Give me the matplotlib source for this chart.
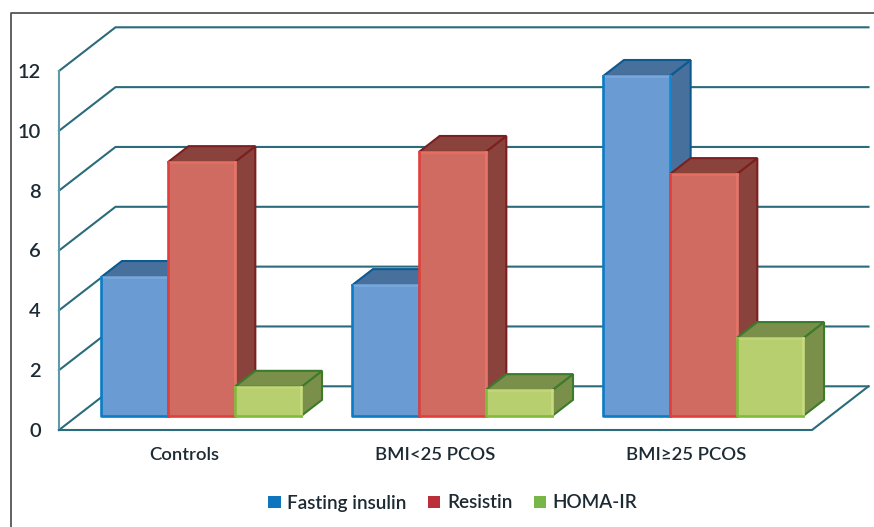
#!/usr/bin/env python3
"""Pseudo-3D clustered column chart of insulin, resistin and HOMA-IR by group."""

import matplotlib
matplotlib.use("Agg")
import matplotlib.pyplot as plt
from matplotlib.patches import Polygon, Patch

plt.rcParams["font.family"] = ["Lato", "DejaVu Sans"]
plt.rcParams["font.weight"] = "semibold"

GROUPS = ["Controls", "BMI<25 PCOS", "BMI\u226525 PCOS"]
SERIES = ["Fasting insulin", "Resistin", "HOMA-IR"]
FASTING_INSULIN = [4.64, 4.37, 11.36]
RESISTIN = [8.48, 8.82, 8.08]
HOMA_IR = [0.97, 0.86, 2.6]
Y_TICKS = [0, 2, 4, 6, 8, 10, 12]

W, H = 874, 527
# Axes box in pixels: the front edge of the floor and the left wall
LEFT, RIGHT, BOTTOM, TOP = 59, 812, 430, 71

# Wall offset in data units, and where the columns sit between front and back
DX = 56.5 / ((RIGHT - LEFT) / 3)
DY = 43.7 / ((BOTTOM - TOP) / 12)
BAR_FRONT = 0.325
BAR_BACK = 0.69
BAR_W = 0.2657

GRID = "#2b6b7b"
TEXT = "#1c2a33"
LEGEND_COLORS = ["#0f75bd", "#bb2f38", "#79b648"]
STYLES = [
    # front, left/bottom edge, right edge, top edge, side/top, side edge
    ("#6a9bd2", "#0b7cc4", "#0b8ad0", "#7aa8da", "#48709c", "#0b5a92"),
    ("#cf6b60", "#e0403c", "#e5756a", "#e5705f", "#8a433c", "#7c1f20"),
    ("#b7cf6e", "#82bb3c", "#c9dc80", "#c2d678", "#7a8f4a", "#3c7a2c"),
]


def proj(x, y, depth):
    return (x + depth * DX, y + depth * DY)


def draw_column(ax, x, value, style, z):
    front, left_edge, right_edge, top_edge, side, side_edge = style
    x0, x1 = x, x + BAR_W
    top = [proj(x0, value, BAR_FRONT), proj(x1, value, BAR_FRONT),
           proj(x1, value, BAR_BACK), proj(x0, value, BAR_BACK)]
    right = [proj(x1, 0, BAR_FRONT), proj(x1, 0, BAR_BACK),
             proj(x1, value, BAR_BACK), proj(x1, value, BAR_FRONT)]
    face = [proj(x0, 0, BAR_FRONT), proj(x1, 0, BAR_FRONT),
            proj(x1, value, BAR_FRONT), proj(x0, value, BAR_FRONT)]
    for pts in (right, top):
        ax.add_patch(Polygon(pts, closed=True, facecolor=side, edgecolor=side_edge,
                             linewidth=1.5, joinstyle="miter", zorder=z,
                             clip_on=False))
    ax.add_patch(Polygon(face, closed=True, facecolor=front, edgecolor="none",
                         zorder=z, clip_on=False))
    # front face edges differ per side
    seg = dict(solid_capstyle="projecting", clip_on=False, zorder=z, linewidth=1.9)
    xs = [p[0] for p in face]
    ys = [p[1] for p in face]
    ax.plot([xs[3], xs[2]], [ys[3], ys[2]], color=top_edge, **seg)
    ax.plot([xs[1], xs[2]], [ys[1], ys[2]], color=right_edge, **seg)
    ax.plot([xs[3], xs[0], xs[1]], [ys[3], ys[0], ys[1]], color=left_edge, **seg)


fig = plt.figure(figsize=(W / 100, H / 100), dpi=100, facecolor="white")
ax = fig.add_axes([LEFT / W, 1 - BOTTOM / H, (RIGHT - LEFT) / W, (BOTTOM - TOP) / H])
ax.set_xlim(0, 3)
ax.set_ylim(0, 12)
ax.patch.set_visible(False)
for s in ax.spines.values():
    s.set_visible(False)

# Walls and floor
line_kw = dict(color=GRID, linewidth=1.5, clip_on=False, zorder=1)
for v in Y_TICKS:
    bx, by = proj(0, v, 1)
    ex, _ = proj(3, v, 1)
    ax.plot([0, bx, ex], [v, by, by], **line_kw)
ax.plot([0, 0], [0, 12], color="#5f9aa6", linewidth=1.5, clip_on=False, zorder=1)
fx, fy = proj(3, 0, 1)
ax.plot([0, 3, fx], [0, 0, fy], **line_kw)

# Columns, left to right so nearer faces overlap correctly
for g in range(len(GROUPS)):
    x_start = g + 0.494 - 1.5 * BAR_W
    vals = [FASTING_INSULIN[g], RESISTIN[g], HOMA_IR[g]]
    for i, val in enumerate(vals):
        draw_column(ax, x_start + i * BAR_W, val, STYLES[i], 3 + g * 3 + i)

ax.set_yticks(Y_TICKS)
ax.set_yticklabels([str(v) for v in Y_TICKS], fontsize=14.5, color=TEXT,
                   va="center_baseline")
ax.set_xticks([g + 0.5 for g in range(len(GROUPS))])
ax.set_xticklabels(GROUPS, fontsize=13.3, color=TEXT)
ax.tick_params(axis="y", length=0, pad=13)
ax.tick_params(axis="x", length=0, pad=12)

handles = [Patch(facecolor=LEGEND_COLORS[i], edgecolor="none", label=SERIES[i])
           for i in range(len(SERIES))]
fig.legend(handles=handles, ncol=3, frameon=False, loc="center",
           bbox_to_anchor=(453 / W, 1 - 503 / H), fontsize=13.6,
           labelcolor=TEXT, handlelength=0.64, handleheight=0.64,
           handletextpad=0.35, columnspacing=1.15)

# Frame rules along the top and left of the panel
fig.add_artist(plt.Line2D([11 / W, 11 / W, 1], [0, 1 - 13 / H, 1 - 13 / H],
                          color="#555555", linewidth=1.3))

fig.savefig("out.png", dpi=100)
